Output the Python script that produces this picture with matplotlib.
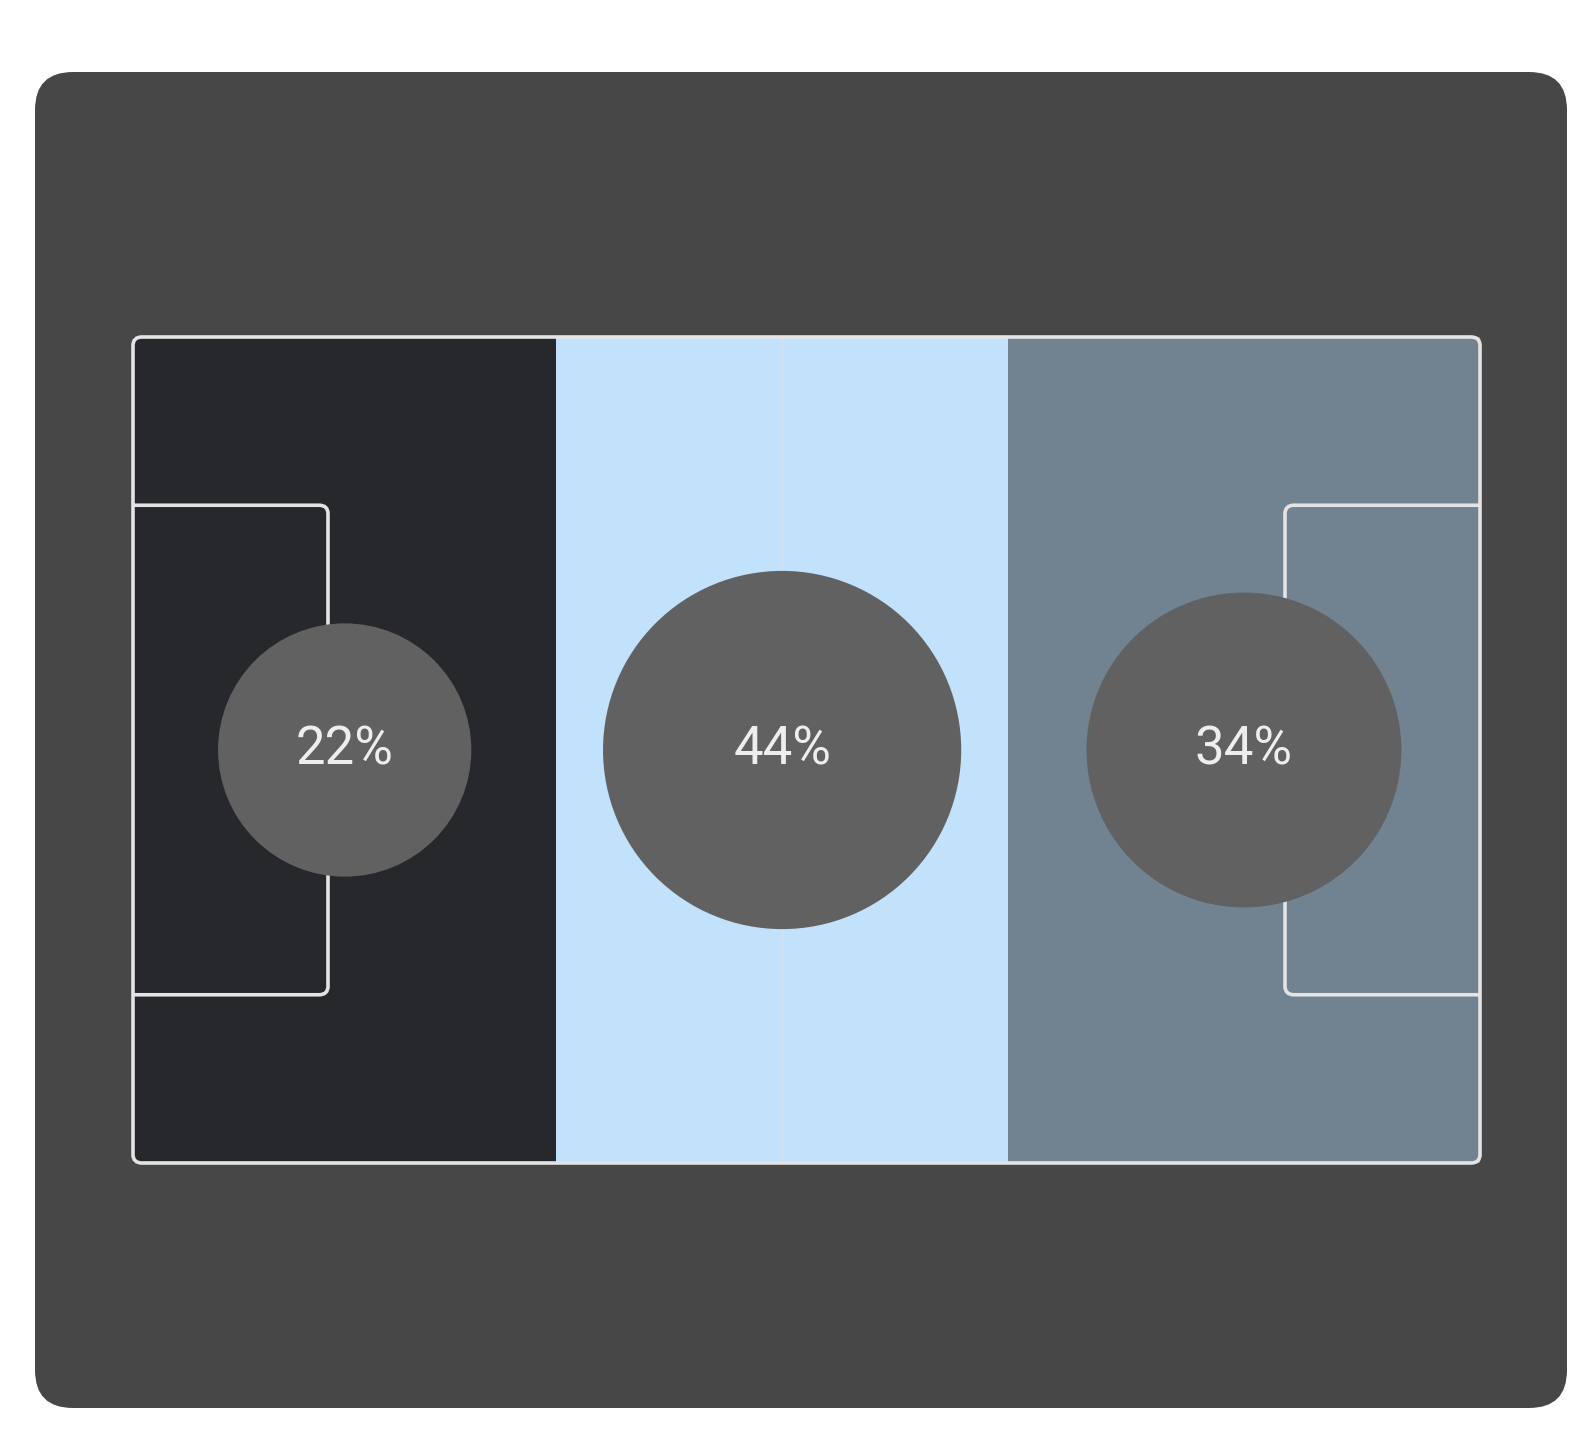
import numpy as np
import matplotlib.pyplot as plt
from matplotlib.patches import FancyBboxPatch, Rectangle

# zone shares of possession / territory
zones = ['Defensive third', 'Middle third', 'Attacking third']
shares = [22, 44, 34]
zoneEdges = [0, 33, 68.2, 105]
zoneColors = ['#27282c', '#c2e1fa', '#718391']

pitchLength = 105.0
pitchWidth = 68.0
boxDepth = 15.2
boxWidth = 40.3

W, H = 1572, 1445
fig = plt.figure(figsize=(W / 100, H / 100), dpi=100)
fig.patch.set_facecolor('white')

# dark card behind the pitch
bg = fig.add_axes([0, 0, 1, 1])
bg.set_xlim(0, W)
bg.set_ylim(H, 0)
bg.axis('off')
card = FancyBboxPatch((35, 72), 1532, 1336, boxstyle='round,pad=0,rounding_size=38',
                      facecolor='#474747', edgecolor='none')
bg.add_patch(card)

# pitch axes, placed in pixels
px0, px1, py0, py1 = 133, 1480, 337, 1163
ax = fig.add_axes([px0 / W, 1 - py1 / H, (px1 - px0) / W, (py1 - py0) / H])
ax.set_xlim(0, pitchLength)
ax.set_ylim(0, pitchWidth)
ax.axis('off')

for i, c in enumerate(zoneColors):
    ax.add_patch(Rectangle((zoneEdges[i], 0), zoneEdges[i + 1] - zoneEdges[i], pitchWidth,
                           facecolor=c, edgecolor='none', zorder=1))

# faint halfway line, through the middle of the centre zone
midX = (zoneEdges[1] + zoneEdges[2]) / 2
ax.plot([midX, midX], [0, pitchWidth], color='#d2e0ee', lw=2, zorder=2)

lineCol = '#e4e4e4'
lw = 2.6
# outline
ax.add_patch(FancyBboxPatch((0, 0), pitchLength, pitchWidth,
                            boxstyle='round,pad=0,rounding_size=0.7',
                            facecolor='none', edgecolor=lineCol, lw=lw, zorder=3,
                            clip_on=False))
# penalty boxes
y0 = (pitchWidth - boxWidth) / 2
ax.add_patch(FancyBboxPatch((-1, y0), boxDepth + 1, boxWidth,
                            boxstyle='round,pad=0,rounding_size=0.7',
                            facecolor='none', edgecolor=lineCol, lw=lw, zorder=3))
ax.add_patch(FancyBboxPatch((pitchLength - boxDepth, y0), boxDepth + 1, boxWidth,
                            boxstyle='round,pad=0,rounding_size=0.7',
                            facecolor='none', edgecolor=lineCol, lw=lw, zorder=3))

# bubbles: area proportional to share
xs = [(zoneEdges[i] + zoneEdges[i + 1]) / 2 for i in range(len(zones))]
ys = [pitchWidth / 2] * len(zones)
radiusPx = [27 * np.sqrt(s) for s in shares]
sizes = [(2 * r * 0.72) ** 2 for r in radiusPx]
ax.scatter(xs, ys, s=sizes, color='#616161', edgecolors='none', zorder=4)
for x, y, s in zip(xs, ys, shares):
    ax.text(x, y, f'{s}%', ha='center', va='center', color='#eeeeee',
            fontsize=38, family=['Roboto', 'DejaVu Sans'], zorder=5)

fig.savefig('out.png', dpi=100)
